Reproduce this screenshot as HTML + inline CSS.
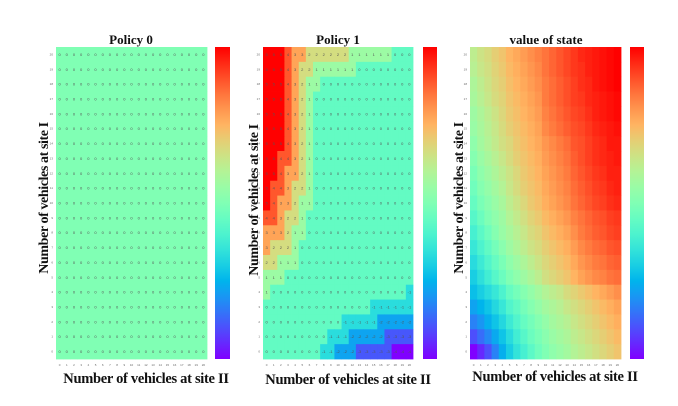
<!DOCTYPE html>
<html><head><meta charset="utf-8"><style>
html,body{margin:0;padding:0;background:#fff;width:678px;height:406px;overflow:hidden}
svg{display:block}
.t{font-family:"Liberation Serif",serif;font-weight:bold;fill:#111}
</style></head><body>
<svg id="chart" width="678" height="406" viewBox="0 0 678 406" xmlns="http://www.w3.org/2000/svg">
<text class="t" x="131" y="44" font-size="13" text-anchor="middle">Policy 0</text>
<text class="t" x="338" y="44" font-size="13" text-anchor="middle">Policy 1</text>
<text class="t" x="546" y="44" font-size="13" text-anchor="middle">value of state</text>
<text class="t" x="146" y="383" font-size="14.5" text-anchor="middle" letter-spacing="-0.3">Number of vehicles at site II</text>
<text class="t" x="348" y="384" font-size="14.5" text-anchor="middle" letter-spacing="-0.3">Number of vehicles at site II</text>
<text class="t" x="555" y="381" font-size="14.5" text-anchor="middle" letter-spacing="-0.3">Number of vehicles at site II</text>
<text class="t" transform="translate(48,198) rotate(-90)" font-size="14" text-anchor="middle" letter-spacing="-0.4">Number  of vehicles at site I</text>
<text class="t" transform="translate(258,200) rotate(-90)" font-size="14" text-anchor="middle" letter-spacing="-0.4">Number of vehicles at site I</text>
<text class="t" transform="translate(463,198) rotate(-90)" font-size="14" text-anchor="middle" letter-spacing="-0.4">Number of vehicles at site I</text>
</svg>
<script>
// rows listed top (state 20) to bottom (state 0)
const policy1Rows = [
[5,5,5,4,3,3,2,2,2,2,2,2,1,1,1,1,1,1,0,0,0],
[5,5,5,4,3,2,2,1,1,1,1,1,1,0,0,0,0,0,0,0,0],
[5,5,5,4,3,2,1,1,0,0,0,0,0,0,0,0,0,0,0,0,0],
[5,5,5,4,3,2,1,0,0,0,0,0,0,0,0,0,0,0,0,0,0],
[5,5,5,4,3,2,1,0,0,0,0,0,0,0,0,0,0,0,0,0,0],
[5,5,5,4,3,2,1,0,0,0,0,0,0,0,0,0,0,0,0,0,0],
[5,5,5,4,3,2,1,0,0,0,0,0,0,0,0,0,0,0,0,0,0],
[5,5,4,4,3,2,1,0,0,0,0,0,0,0,0,0,0,0,0,0,0],
[5,5,4,3,3,2,1,0,0,0,0,0,0,0,0,0,0,0,0,0,0],
[5,4,4,3,2,2,1,0,0,0,0,0,0,0,0,0,0,0,0,0,0],
[5,4,3,3,2,1,1,0,0,0,0,0,0,0,0,0,0,0,0,0,0],
[4,4,3,2,2,1,0,0,0,0,0,0,0,0,0,0,0,0,0,0,0],
[3,3,3,2,1,1,0,0,0,0,0,0,0,0,0,0,0,0,0,0,0],
[3,2,2,2,1,0,0,0,0,0,0,0,0,0,0,0,0,0,0,0,0],
[2,2,1,1,1,0,0,0,0,0,0,0,0,0,0,0,0,0,0,0,0],
[1,1,1,0,0,0,0,0,0,0,0,0,0,0,0,0,0,0,0,0,0],
[1,0,0,0,0,0,0,0,0,0,0,0,0,0,0,0,0,0,0,0,-1],
[0,0,0,0,0,0,0,0,0,0,0,0,0,0,0,-1,-1,-1,-1,-1,-1],
[0,0,0,0,0,0,0,0,0,0,0,-1,-1,-1,-1,-1,-2,-2,-2,-2,-2],
[0,0,0,0,0,0,0,0,0,-1,-1,-1,-2,-2,-2,-2,-2,-3,-3,-3,-3],
[0,0,0,0,0,0,0,0,-1,-1,-2,-2,-2,-3,-3,-3,-3,-3,-4,-4,-4]
];
const valueRows = [
[62,65,67,70,72,75,77,79,81,83,85,87,89,91,93,95,96,97,98,99,100],
[61,64,66,69,71,74,76,78,80,82,85,87,89,91,93,94,96,97,98,99,100],
[59,62,65,68,70,73,75,77,79,81,84,86,88,90,92,94,95,97,98,99,100],
[58,61,64,67,69,72,74,76,78,80,84,86,88,90,92,93,95,96,97,98,99],
[56,59,62,65,68,71,73,75,77,79,83,85,87,89,91,92,94,96,97,98,99],
[55,58,61,64,67,70,72,74,76,78,82,84,86,88,90,91,93,95,96,97,98],
[53,57,60,63,66,68,71,73,75,77,80,82,84,86,89,90,92,94,95,97,97],
[51,55,58,61,64,67,70,72,74,76,79,81,83,85,88,90,92,94,95,96,97],
[49,53,56,59,62,65,68,71,73,75,78,80,82,84,87,89,91,93,94,96,96],
[47,51,54,57,60,64,67,70,72,74,77,79,81,83,86,88,90,92,93,95,96],
[45,49,52,55,58,62,65,68,71,73,76,78,80,82,85,87,89,91,92,94,95],
[42,46,50,53,56,60,63,66,69,71,74,76,78,80,83,85,87,89,90,92,93],
[39,43,47,51,55,58,61,64,67,69,72,74,76,78,81,84,86,88,89,91,92],
[36,40,44,48,52,56,59,62,65,67,70,72,74,76,79,82,84,86,87,89,90],
[33,37,41,45,49,53,56,59,62,65,68,70,72,74,77,80,82,84,85,87,88],
[30,34,38,42,46,50,53,56,59,62,66,68,70,72,75,78,80,82,83,85,86],
[27,30,33,36,40,45,48,51,54,57,60,62,64,67,69,71,73,75,77,79,81],
[22,25,28,32,36,41,44,48,51,54,57,59,61,64,66,68,70,72,74,76,78],
[17,20,24,28,32,37,41,45,48,51,54,57,59,61,64,66,68,70,72,74,76],
[10,14,18,23,28,33,38,42,46,49,52,55,57,59,62,64,66,68,70,72,74],
[0,5,10,17,24,30,35,39,43,47,50,53,55,57,60,62,64,66,68,70,72]
];
const policy0Value = 0;
const policy1Range = [-4, 5];
const policy0Range = [-0.1, 0.1];
const valueRange = [0, 100];
const stateTicks = [0,1,2,3,4,5,6,7,8,9,10,11,12,13,14,15,16,17,18,19,20];

const NS = 'http://www.w3.org/2000/svg';
const svg = document.getElementById('chart');
function rainbow(t){
  t = Math.max(0, Math.min(1, t));
  const r = Math.min(1, Math.abs(2*t - 0.5));
  const g = Math.sin(Math.PI*t);
  const b = Math.cos(Math.PI*t/2);
  return 'rgb(' + Math.round(r*255) + ',' + Math.round(g*255) + ',' + Math.round(b*255) + ')';
}
function mk(tag, attrs){
  const e = document.createElementNS(NS, tag);
  for (const k in attrs) e.setAttribute(k, attrs[k]);
  return e;
}
function drawPanel(key, rows, range, x0, x1, y0, y1, cbx, cbw, showNums){
  const g = mk('g', {});
  
  
  svg.appendChild(g);
  const n = stateTicks.length;
  const cw = (x1 - x0) / n, ch = (y1 - y0) / n;
  const xs = j => x0 + j * cw;
  const ys = r => y0 + r * ch;
  const norm = v => (v - range[0]) / (range[1] - range[0]);
  rows.forEach((row, r) => {
    row.forEach((v, j) => {
      const c = mk('rect', {x: xs(j), y: ys(r), width: cw + 0.4, height: ch + 0.4, fill: rainbow(norm(v))});
      
      
      g.appendChild(c);
      if (showNums) {
        const t = mk('text', {x: xs(j) + cw/2, y: ys(r) + ch/2 + 1.5, 'font-size': 4, 'text-anchor': 'middle', fill: '#555', 'font-family': 'Liberation Sans, sans-serif'});
        t.textContent = v;
        
        
        g.appendChild(t);
      }
    });
  });
  stateTicks.forEach((s, j) => {
    const t = mk('text', {x: xs(j) + cw/2, y: y1 + 7, 'font-size': 3, 'text-anchor': 'middle', fill: '#666', 'font-family': 'Liberation Sans, sans-serif'});
    t.textContent = s;
    
    
    svg.appendChild(t);
    const u = mk('text', {x: x0 - 3, y: ys(n - 1 - j) + ch/2 + 1, 'font-size': 3, 'text-anchor': 'end', fill: '#666', 'font-family': 'Liberation Sans, sans-serif'});
    u.textContent = s;
    
    
    svg.appendChild(u);
  });
  const defs = mk('defs', {});
  const lg = mk('linearGradient', {id: key + '-grad', x1: 0, y1: 1, x2: 0, y2: 0});
  for (let i = 0; i <= 20; i++) {
    lg.appendChild(mk('stop', {offset: (i/20), 'stop-color': rainbow(i/20)}));
  }
  defs.appendChild(lg);
  svg.appendChild(defs);
  const cb = mk('rect', {x: cbx, y: y0, width: cbw, height: y1 - y0, fill: 'url(#' + key + '-grad)'});
  
  
  svg.appendChild(cb);
}
const policy0Rows = stateTicks.map(() => stateTicks.map(() => policy0Value));
drawPanel('policy0', policy0Rows, policy0Range, 56, 207, 47, 359, 215, 15, true);
drawPanel('policy1', policy1Rows, policy1Range, 263, 413, 47, 359, 423, 14, true);
drawPanel('value', valueRows, valueRange, 470, 621, 47, 359, 630, 14, false);
</script>
</body></html>
